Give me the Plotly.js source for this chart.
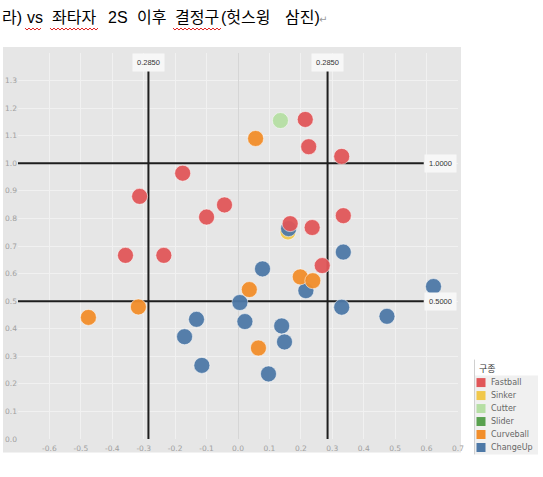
<!DOCTYPE html>
<html>
<head>
<meta charset="utf-8">
<script src="https://cdn.plot.ly/plotly-3.0.1.min.js"></script>
<style>html,body{margin:0;padding:0;background:#fff;}#chart{width:543px;height:477px;}</style>
</head>
<body>
<div id="chart"></div>
<script>
// ---- data ----
const PITCHES = ["Fastball", "Sinker", "Cutter", "Slider", "Curveball", "ChangeUp"];
const PITCH_COLORS = ["#e15759", "#f1c84b", "#b6dfa4", "#59a14f", "#f28e2b", "#4e79a7"];
const fastballX = [0.214, 0.225, 0.330, -0.176, -0.313, -0.043, -0.100, 0.335, 0.166, 0.236, -0.358, -0.236, 0.268];
const fastballY = [1.159, 1.060, 1.025, 0.964, 0.880, 0.849, 0.805, 0.810, 0.781, 0.767, 0.666, 0.666, 0.629];
const sinkerX = [0.159];
const sinkerY = [0.751];
const cutterX = [0.135];
const cutterY = [1.155];
const sliderX = [];
const sliderY = [];
const curveballX = [0.056, 0.198, 0.238, 0.036, -0.317, -0.476, 0.065];
const curveballY = [1.090, 0.588, 0.574, 0.542, 0.479, 0.441, 0.330];
const changeupX = [0.161, 0.335, 0.078, 0.216, 0.006, 0.330, -0.132, 0.022, 0.139, -0.170, 0.148, -0.115, 0.097, 0.622, 0.474];
const changeupY = [0.763, 0.678, 0.617, 0.538, 0.495, 0.478, 0.434, 0.426, 0.410, 0.371, 0.352, 0.267, 0.236, 0.553, 0.445];
const X_REF = [-0.285, 0.285];
const X_REF_LABELS = ["0.2850", "0.2850"];
const Y_REF = [1.0, 0.5];
const Y_REF_LABELS = ["1.0000", "0.5000"];
const X_TICKS = [-0.6, -0.5, -0.4, -0.3, -0.2, -0.1, 0.0, 0.1, 0.2, 0.3, 0.4, 0.5, 0.6, 0.7];
const Y_TICKS = [0.0, 0.1, 0.2, 0.3, 0.4, 0.5, 0.6, 0.7, 0.8, 0.9, 1.0, 1.1, 1.2, 1.3];
const LEGEND_TITLE = "구종";
const TITLE_PARTS = ["라)", "vs", "좌타자", "2S", "이후", "결정구", "(헛스윙", "삼진)"];

// ---- layout helpers ----
const W = 543, H = 477;
const M = {l: 18, r: 85, t: 53, b: 37.5};
const PW = W - M.l - M.r, PH = H - M.t - M.b;
const px2x = p => (p - M.l) / PW;
const py2y = p => (H - M.b - p) / PH;

const series = {
  Fastball: [fastballX, fastballY], Sinker: [sinkerX, sinkerY], Cutter: [cutterX, cutterY],
  Slider: [sliderX, sliderY], Curveball: [curveballX, curveballY], ChangeUp: [changeupX, changeupY]
};
const drawOrder = ["Sinker", "Slider", "ChangeUp", "Curveball", "Fastball", "Cutter"];
const traces = drawOrder.map(name => ({
  type: "scatter", mode: "markers", name: name,
  x: series[name][0], y: series[name][1],
  marker: {size: 16, color: PITCH_COLORS[PITCHES.indexOf(name)], opacity: 0.95,
           line: {color: "rgba(255,255,255,0.55)", width: 1}},
  hoverinfo: "x+y+name", showlegend: false
}));

const shapes = [];
const annotations = [];
// gray Tableau panel
shapes.push({type: "rect", xref: "paper", yref: "paper", layer: "below",
  x0: px2x(3), x1: px2x(461), y0: py2y(453), y1: py2y(47),
  fillcolor: "#e6e6e6", line: {width: 0}});
// reference lines
X_REF.forEach((v, i) => {
  shapes.push({type: "line", xref: "x", yref: "y", layer: "between",
    x0: v, x1: v, y0: 0, y1: 1.335, line: {color: "#1e1e1e", width: 2}});
  annotations.push({xref: "x", yref: "y", x: v, y: 1.366, text: X_REF_LABELS[i], showarrow: false,
    xanchor: "center", yanchor: "middle", bgcolor: "#f7f7f7", borderpad: 4,
    font: {family: "Liberation Sans, Arial, sans-serif", size: 7.5, color: "#333"}});
});
Y_REF.forEach((v, i) => {
  shapes.push({type: "line", xref: "x", yref: "y", layer: "between",
    x0: -0.7, x1: 0.591, y0: v, y1: v, line: {color: "#1e1e1e", width: 2}});
  annotations.push({xref: "x", yref: "y", x: 0.645, y: v, text: Y_REF_LABELS[i], showarrow: false,
    xanchor: "center", yanchor: "middle", bgcolor: "#f7f7f7", borderpad: 4,
    font: {family: "Liberation Sans, Arial, sans-serif", size: 7.5, color: "#333"}});
});

// title (Word document text)
const titleX = [0, 25, 50, 106, 135, 173, 219, 283];
TITLE_PARTS.forEach((t, i) => {
  annotations.push({xref: "paper", yref: "paper", x: px2x(titleX[i]), y: py2y(17), text: t,
    showarrow: false, xanchor: "left", yanchor: "middle",
    font: {family: "Liberation Sans, Noto Sans CJK KR, sans-serif", size: 16, color: "#000"}});
});
annotations.push({xref: "paper", yref: "paper", x: px2x(317), y: py2y(19), text: "↵",
  showarrow: false, xanchor: "left", yanchor: "middle",
  font: {family: "DejaVu Sans, sans-serif", size: 10, color: "#999"}});
// red spell-check squiggles
function squiggle(a, b, yp) {
  let d = "";
  let up = true;
  for (let p = a; p <= b; p += 2) {
    d += (d ? " L " : "M ") + px2x(p).toFixed(5) + "," + py2y(yp + (up ? -1 : 1)).toFixed(5);
    up = !up;
  }
  return {type: "path", xref: "paper", yref: "paper", path: d, line: {color: "#e02020", width: 1}};
}
shapes.push(squiggle(25, 42, 29));
shapes.push(squiggle(50, 98, 29));
shapes.push(squiggle(173, 221, 29));

// legend (manual, Tableau style)
shapes.push({type: "rect", xref: "paper", yref: "paper", layer: "below",
  x0: px2x(475), x1: px2x(538), y0: py2y(455), y1: py2y(376),
  fillcolor: "#f0f0f0", line: {width: 0}});
shapes.push({type: "line", xref: "paper", yref: "paper",
  x0: px2x(474.5), x1: px2x(474.5), y0: py2y(455), y1: py2y(360),
  line: {color: "#d0d0d0", width: 1}});
annotations.push({xref: "paper", yref: "paper", x: px2x(477), y: py2y(369), text: LEGEND_TITLE,
  showarrow: false, xanchor: "left", yanchor: "middle",
  font: {family: "Noto Sans CJK KR, sans-serif", size: 9, color: "#333"}});
PITCHES.forEach((p, i) => {
  const cy = 383 + i * 13;
  shapes.push({type: "rect", xref: "paper", yref: "paper",
    x0: px2x(476.5), x1: px2x(485.5), y0: py2y(cy + 4.5), y1: py2y(cy - 4.5),
    fillcolor: PITCH_COLORS[i], line: {width: 0}});
  annotations.push({xref: "paper", yref: "paper", x: px2x(488.5), y: py2y(cy), text: p,
    showarrow: false, xanchor: "left", yanchor: "middle",
    font: {family: "DejaVu Sans, sans-serif", size: 8, color: "#666"}});
});

const layout = {
  width: W, height: H, margin: M, showlegend: false,
  paper_bgcolor: "#ffffff", plot_bgcolor: "#e6e6e6",
  font: {family: "DejaVu Sans, sans-serif"},
  xaxis: {range: [-0.7, 0.7], tickvals: X_TICKS, ticktext: X_TICKS.map(v => v.toFixed(1)),
    showgrid: true, gridcolor: "#f1f1f1", gridwidth: 1, zeroline: true, zerolinecolor: "#d6d6d6",
    zerolinewidth: 1, showline: false, ticks: "", automargin: false, ticklabelstandoff: 3,
    tickfont: {size: 7.5, color: "#a0a0a0"}},
  yaxis: {range: [0, 1.4], tickvals: Y_TICKS, ticktext: Y_TICKS.map(v => v.toFixed(1)),
    showgrid: true, gridcolor: "#f1f1f1", gridwidth: 1, zeroline: false, showline: false,
    ticks: "", automargin: false, tickfont: {size: 7.5, color: "#a0a0a0"}},
  shapes: shapes, annotations: annotations
};
Plotly.newPlot("chart", traces, layout, {displayModeBar: false, staticPlot: true});
</script>
</body>
</html>
